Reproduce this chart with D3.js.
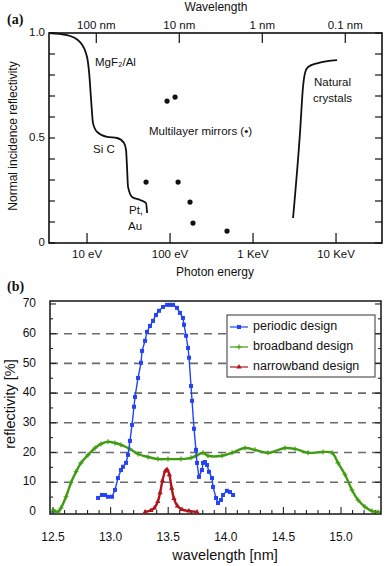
<!DOCTYPE html>
<html>
<head>
<meta charset="utf-8">
<script src="https://cdn.jsdelivr.net/npm/d3@7"></script>
<style>
  body { margin: 0; background: #fff; }
  text { font-family: "Liberation Sans", Arial, sans-serif; fill: #111; }
</style>
</head>
<body>
<div id="chart"></div>
<script>
// ---------- panel (a) data ----------
const mgf2Energy = [3.48, 5.74, 8.24, 10, 10.6, 11.2, 11.8, 13.2, 17.4, 23, 27.9, 29.5, 30.3, 31.2, 34.9, 43.5, 51.4, 52.9];
const mgf2Refl   = [1.0, 0.99, 0.957, 0.886, 0.81, 0.68, 0.571, 0.529, 0.505, 0.5, 0.476, 0.443, 0.362, 0.267, 0.219, 0.205, 0.19, 0.143];
const crystalEnergy = [3034, 3680, 4000, 4234, 4600, 6070, 10280];
const crystalRefl   = [0.119, 0.524, 0.743, 0.81, 0.838, 0.857, 0.871];
const mirrorEnergy = [51.4, 92, 115, 125, 174, 189, 486];
const mirrorRefl   = [0.29, 0.676, 0.695, 0.29, 0.195, 0.095, 0.057];
const energyTicks = [10, 100, 1000, 10000];
const energyLabels = ["10 eV", "100 eV", "1 KeV", "10 KeV"];
const waveTicks = [100, 10, 1, 0.1];
const waveLabels = ["100 nm", "10 nm", "1 nm", "0.1 nm"];

// ---------- panel (b) data ----------
const periodicWl = [12.891, 12.925, 12.951, 12.977, 13.012, 13.038, 13.064, 13.09, 13.108, 13.134, 13.151, 13.168, 13.186, 13.203, 13.212, 13.238, 13.264, 13.273, 13.299, 13.316, 13.342, 13.368, 13.394, 13.42, 13.455, 13.49, 13.516, 13.542, 13.576, 13.602, 13.628, 13.637, 13.655, 13.672, 13.681, 13.698, 13.707, 13.724, 13.741, 13.75, 13.767, 13.793, 13.802, 13.819, 13.837, 13.854, 13.88, 13.889, 13.915, 13.932, 13.958, 13.976, 14.01, 14.036, 14.063];
const periodicR  = [4.7, 5.7, 5.7, 5.1, 5.1, 7.4, 11.4, 14.1, 15.2, 16.5, 19.2, 23.9, 29.3, 35.4, 38.7, 45.1, 50.2, 54.2, 57.6, 60.6, 62.6, 64.3, 66.3, 67.7, 69.0, 69.7, 69.7, 69.7, 68.7, 67.0, 65.3, 63.0, 59.3, 55.2, 51.9, 42.4, 37.4, 28.0, 20.9, 16.5, 11.8, 14.1, 16.5, 16.8, 15.8, 13.5, 11.4, 8.4, 4.7, 3.0, 4.0, 5.7, 7.1, 6.7, 5.7];
const broadWl = [12.5, 12.543, 12.569, 12.613, 12.656, 12.7, 12.743, 12.804, 12.865, 12.917, 12.977, 13.038, 13.09, 13.168, 13.238, 13.325, 13.411, 13.498, 13.611, 13.698, 13.741, 13.802, 13.845, 13.967, 14.054, 14.167, 14.253, 14.366, 14.514, 14.601, 14.714, 14.844, 14.922, 14.974, 15.035, 15.095, 15.148, 15.208, 15.269, 15.321];
const broadR  = [0.7, 0.0, 1.3, 5.1, 9.8, 13.5, 16.5, 19.2, 21.5, 22.9, 23.6, 23.2, 22.6, 21.2, 19.5, 18.5, 17.8, 17.8, 17.8, 18.2, 18.9, 19.9, 18.9, 18.9, 19.9, 21.5, 20.9, 19.9, 21.5, 21.2, 19.9, 20.2, 19.9, 16.5, 12.5, 7.4, 4.0, 1.7, 0.3, 0.0];
const narrowWl = [13.30, 13.35, 13.38, 13.41, 13.43, 13.45, 13.475, 13.49, 13.51, 13.53, 13.55, 13.58, 13.62, 13.68, 13.75];
const narrowR  = [0.0, 0.5, 1.3, 3.5, 6.5, 10.5, 13.8, 14.3, 12.5, 8.0, 4.5, 2.0, 0.8, 0.3, 0.0];
const wlTicks = [12.5, 13.0, 13.5, 14.0, 14.5, 15.0];
const reflTicks = [0, 10, 20, 30, 40, 50, 60, 70];
const gridLevels = [10, 20, 30, 40, 50, 60];
const seriesNames = ["periodic design", "broadband design", "narrowband design"];
const seriesColors = ["#2443f2", "#3f9c10", "#b0141c"];

const W = 385, H = 566;
const svg = d3.select("#chart").append("svg")
    .attr("width", W).attr("height", H);

// ================= panel (a) =================
const a = {l: 49, r: 382, t: 33, b: 243};
const xa = d3.scaleLog().domain([3.48, 35800]).range([a.l, a.r]);
const ya = d3.scaleLinear().domain([0, 1]).range([a.b, a.t]);
const ga = svg.append("g");

ga.append("rect")
    .attr("x", a.l).attr("y", a.t)
    .attr("width", a.r - a.l).attr("height", a.b - a.t)
    .attr("fill", "none").attr("stroke", "#111").attr("stroke-width", 1.6);

// y ticks left and right, every 0.1
d3.range(0, 1.01, 0.1).forEach(v => {
    ga.append("line").attr("x1", a.l).attr("x2", a.l + 6)
        .attr("y1", ya(v)).attr("y2", ya(v)).attr("stroke", "#111").attr("stroke-width", 1.2);
    ga.append("line").attr("x1", a.r).attr("x2", a.r - 7)
        .attr("y1", ya(v)).attr("y2", ya(v)).attr("stroke", "#111").attr("stroke-width", 1.2);
});
[[0, "0"], [0.5, "0.5"], [1, "1.0"]].forEach(([v, s]) => {
    ga.append("text").attr("x", a.l - 4).attr("y", ya(v))
        .attr("text-anchor", "end").attr("dominant-baseline", "middle")
        .style("font-size", "11.5px").text(s);
});

// bottom energy axis
energyTicks.forEach((e, i) => {
    ga.append("line").attr("x1", xa(e)).attr("x2", xa(e))
        .attr("y1", a.b).attr("y2", a.b - 10).attr("stroke", "#111").attr("stroke-width", 1.2);
    ga.append("text").attr("x", xa(e)).attr("y", 258)
        .attr("text-anchor", "middle").style("font-size", "11.5px").text(energyLabels[i]);
});
// top wavelength axis (E = hc / lambda)
waveTicks.forEach((w, i) => {
    const xx = xa(1239.84 / w) + 1.5;
    ga.append("line").attr("x1", xx).attr("x2", xx)
        .attr("y1", a.t).attr("y2", a.t + 10).attr("stroke", "#111").attr("stroke-width", 1.2);
    ga.append("text").attr("x", xx).attr("y", 29)
        .attr("text-anchor", "middle").style("font-size", "11.5px").text(waveLabels[i]);
});

ga.append("text").attr("x", 216).attr("y", 11).attr("text-anchor", "middle")
    .style("font-size", "12px").text("Wavelength");
ga.append("text").attr("x", 215).attr("y", 276).attr("text-anchor", "middle")
    .style("font-size", "12px").text("Photon energy");
ga.append("text").attr("transform", "translate(17,136) rotate(-90)").attr("text-anchor", "middle")
    .style("font-size", "12px").text("Normal incidence reflectivity");
ga.append("text").attr("x", 7).attr("y", 24)
    .style("font-family", "'Liberation Serif', serif").style("font-weight", "bold")
    .style("font-size", "14px").text("(a)");

const lineA = d3.line().x(d => xa(d[0])).y(d => ya(d[1])).curve(d3.curveMonotoneX);
ga.append("path").datum(d3.zip(mgf2Energy, mgf2Refl))
    .attr("d", lineA).attr("fill", "none").attr("stroke", "#111").attr("stroke-width", 1.8);
ga.append("path").datum(d3.zip(crystalEnergy, crystalRefl))
    .attr("d", lineA).attr("fill", "none").attr("stroke", "#111").attr("stroke-width", 1.8);
ga.selectAll("circle.mirror").data(d3.zip(mirrorEnergy, mirrorRefl)).join("circle")
    .attr("class", "mirror")
    .attr("cx", d => xa(d[0])).attr("cy", d => ya(d[1])).attr("r", 2.6).attr("fill", "#111");

const labA = [
    ["MgF\u2082/Al", 95, 66],
    ["Si C", 93, 153],
    ["Pt,", 129, 214],
    ["Au", 128, 230],
    ["Multilayer mirrors (\u2022)", 149, 135],
    ["Natural", 314, 86],
    ["crystals", 313, 102]
];
labA.forEach(([s, x, y]) => {
    ga.append("text").attr("x", x).attr("y", y)
        .style("font-size", "11.5px").text(s);
});

// ================= panel (b) =================
const b = {l: 50, r: 381, t: 301, b: 514};
const xb = d3.scaleLinear().domain([12.474, 15.347]).range([b.l, b.r]);
const yb = d3.scaleLinear().domain([-0.7, 71]).range([b.b, b.t]);
const gb = svg.append("g");

gridLevels.forEach(v => {
    gb.append("line").attr("x1", b.l).attr("x2", b.r)
        .attr("y1", yb(v)).attr("y2", yb(v))
        .attr("stroke", "#6a6a6a").attr("stroke-width", 1.6).attr("stroke-dasharray", "8,6");
});

gb.append("rect")
    .attr("x", b.l).attr("y", b.t)
    .attr("width", b.r - b.l).attr("height", b.b - b.t)
    .attr("fill", "none").attr("stroke", "#222").attr("stroke-width", 1.6);

// y ticks
d3.range(0, 71, 5).forEach(v => {
    const len = v % 10 === 0 ? 6 : 3;
    gb.append("line").attr("x1", b.l).attr("x2", b.l + len)
        .attr("y1", yb(v)).attr("y2", yb(v)).attr("stroke", "#222").attr("stroke-width", 1.1);
    gb.append("line").attr("x1", b.r).attr("x2", b.r - len)
        .attr("y1", yb(v)).attr("y2", yb(v)).attr("stroke", "#222").attr("stroke-width", 1.1);
});
reflTicks.forEach(v => {
    gb.append("text").attr("x", 36).attr("y", yb(v))
        .attr("text-anchor", "end").attr("dominant-baseline", "middle")
        .style("font-size", "12px").text(v);
});
// x ticks
d3.range(12.5, 15.31, 0.1).forEach(v => {
    const major = Math.abs(v * 2 - Math.round(v * 2)) < 1e-6;
    const len = major ? 7 : 4;
    gb.append("line").attr("x1", xb(v)).attr("x2", xb(v))
        .attr("y1", b.b).attr("y2", b.b - len).attr("stroke", "#222").attr("stroke-width", 1.1);
});
wlTicks.forEach(v => {
    gb.append("text").attr("x", xb(v)).attr("y", 541)
        .attr("text-anchor", "middle").style("font-size", "12px").text(v.toFixed(1));
});

gb.append("text").attr("x", 225).attr("y", 560).attr("text-anchor", "middle")
    .style("font-size", "14.5px").text("wavelength [nm]");
gb.append("text").attr("transform", "translate(15,404) rotate(-90)").attr("text-anchor", "middle")
    .style("font-size", "14.5px").text("reflectivity [%]");
gb.append("text").attr("x", 7).attr("y", 291)
    .style("font-family", "'Liberation Serif', serif").style("font-weight", "bold")
    .style("font-size", "14px").text("(b)");

const lineB = d3.line().x(d => xb(d[0])).y(d => yb(d[1]));
const lineSmooth = d3.line().x(d => xb(d[0])).y(d => yb(d[1])).curve(d3.curveCatmullRom.alpha(0.5));

// broadband (green, + markers)
const broad = d3.zip(broadWl, broadR);
gb.append("path").datum(broad).attr("d", lineSmooth)
    .attr("fill", "none").attr("stroke", seriesColors[1]).attr("stroke-width", 2.4);
gb.selectAll("path.plus").data(broad).join("path").attr("class", "plus")
    .attr("d", d => `M${xb(d[0]) - 2.5},${yb(d[1])}h5M${xb(d[0])},${yb(d[1]) - 2.5}v5`)
    .attr("stroke", seriesColors[1]).attr("stroke-width", 1.1);

// narrowband (red, triangle markers)
const narrow = d3.zip(narrowWl, narrowR);
gb.append("path").datum(narrow).attr("d", lineSmooth)
    .attr("fill", "none").attr("stroke", seriesColors[2]).attr("stroke-width", 2.4);
const tri = d3.symbol().type(d3.symbolTriangle).size(12);
gb.selectAll("path.tri").data(narrow).join("path").attr("class", "tri")
    .attr("d", tri).attr("transform", d => `translate(${xb(d[0])},${yb(d[1])})`)
    .attr("fill", seriesColors[2]);

// periodic (blue, square markers)
const periodic = d3.zip(periodicWl, periodicR);
gb.append("path").datum(periodic).attr("d", lineB)
    .attr("fill", "none").attr("stroke", seriesColors[0]).attr("stroke-width", 1.4);
gb.selectAll("rect.sq").data(periodic).join("rect").attr("class", "sq")
    .attr("x", d => xb(d[0]) - 2).attr("y", d => yb(d[1]) - 2)
    .attr("width", 4).attr("height", 4).attr("fill", seriesColors[0]);

// legend
const lg = gb.append("g");
lg.append("rect").attr("x", 227).attr("y", 315).attr("width", 148).attr("height", 62)
    .attr("fill", "#fff").attr("stroke", "#333").attr("stroke-width", 1);
seriesNames.forEach((name, i) => {
    const yy = 327 + i * 20;
    lg.append("line").attr("x1", 230).attr("x2", 248).attr("y1", yy).attr("y2", yy)
        .attr("stroke", seriesColors[i]).attr("stroke-width", 1.2);
    if (i === 0) {
        lg.append("rect").attr("x", 237).attr("y", yy - 2).attr("width", 4).attr("height", 4)
            .attr("fill", seriesColors[0]);
    } else if (i === 1) {
        lg.append("path").attr("d", `M236.5,${yy}h5M239,${yy - 2.5}v5`)
            .attr("stroke", seriesColors[1]).attr("stroke-width", 1.1);
    } else {
        lg.append("path").attr("d", tri).attr("transform", `translate(239,${yy})`)
            .attr("fill", seriesColors[2]);
    }
    lg.append("text").attr("x", 253).attr("y", yy).attr("dominant-baseline", "middle")
        .style("font-size", "12.5px").text(name);
});
</script>
</body>
</html>
